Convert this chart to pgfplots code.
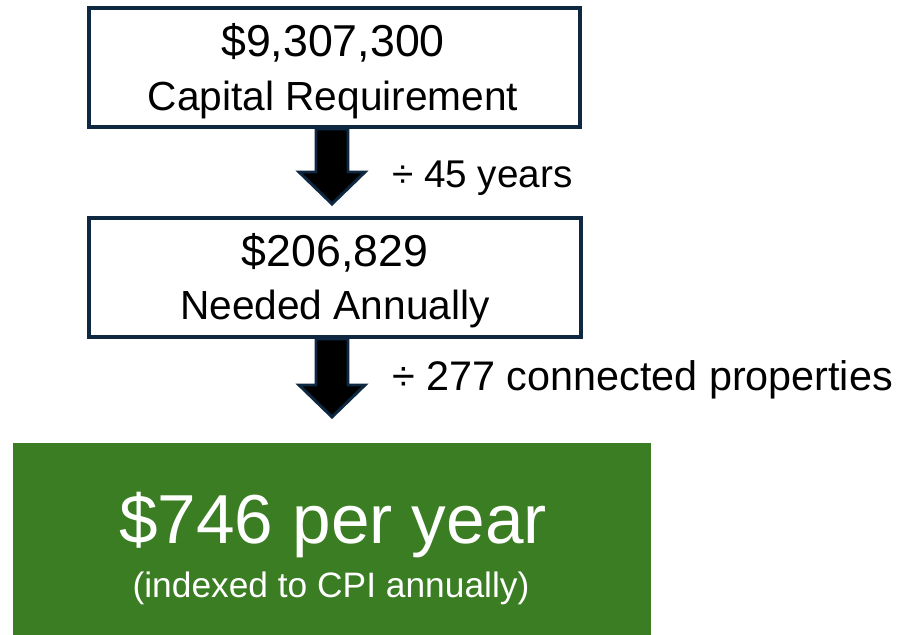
\documentclass[border=0pt]{standalone}
\usepackage{pgfplots}
\pgfplotsset{compat=1.18}
\usepackage{fontspec}
\setmainfont{Liberation Sans}
\definecolor{navyline}{HTML}{0E2841}
\definecolor{boxgreen}{HTML}{3A7D22}

\begin{document}
\begin{tikzpicture}
\begin{axis}[width=674.25pt, height=476.25pt, scale only axis,
  xmin=0, xmax=899, ymin=0, ymax=635, y dir=reverse,
  hide axis, clip=false]
% invisible frame so the page keeps the full size
\addplot[draw=none] coordinates {(0,0) (899,635)};
% boxes
\addplot[draw=navyline, line width=2.5pt] coordinates {(89,8) (580,8) (580,127) (89,127)} -- cycle;
\addplot[draw=navyline, line width=2.5pt] coordinates {(89,218) (581,218) (581,337) (89,337)} -- cycle;
\addplot[fill=boxgreen, draw=none] coordinates {(13,443) (651,443) (651,635) (13,635)} -- cycle;
% arrows
\addplot[fill=black, draw=navyline, line width=2.2pt, line join=miter] coordinates {(316,129) (348,129) (348,172) (365,172) (332,204) (299,172) (316,172)} -- cycle;
\addplot[fill=black, draw=navyline, line width=2.2pt, line join=miter] coordinates {(316,339) (348,339) (348,385) (365,385) (332,417) (299,385) (316,385)} -- cycle;
% text
\node[anchor=base, font=\fontsize{33.5}{36}\selectfont] at (axis cs:333,57) {\$9,307,300};
\node[anchor=base, font=\fontsize{30.5}{36}\selectfont] at (axis cs:333,110) {Capital Requirement};
\node[anchor=base west, inner sep=0pt, font=\fontsize{29}{36}\selectfont] at (axis cs:392,187) {÷ 45 years};
\node[anchor=base, font=\fontsize{33.5}{36}\selectfont] at (axis cs:335,266) {\$206,829};
\node[anchor=base, font=\fontsize{30.5}{36}\selectfont] at (axis cs:335,319) {Needed Annually};
\node[anchor=base west, inner sep=0pt, font=\fontsize{31}{36}\selectfont] at (axis cs:392,390) {÷ 277 connected properties};
\node[anchor=base, text=white, font=\fontsize{52}{56}\selectfont] at (axis cs:333,543) {\$746 per year};
\node[anchor=base, text=white, font=\fontsize{26.5}{30}\selectfont] at (axis cs:331,597) {(indexed to CPI annually)};
\end{axis}
\end{tikzpicture}
\end{document}
